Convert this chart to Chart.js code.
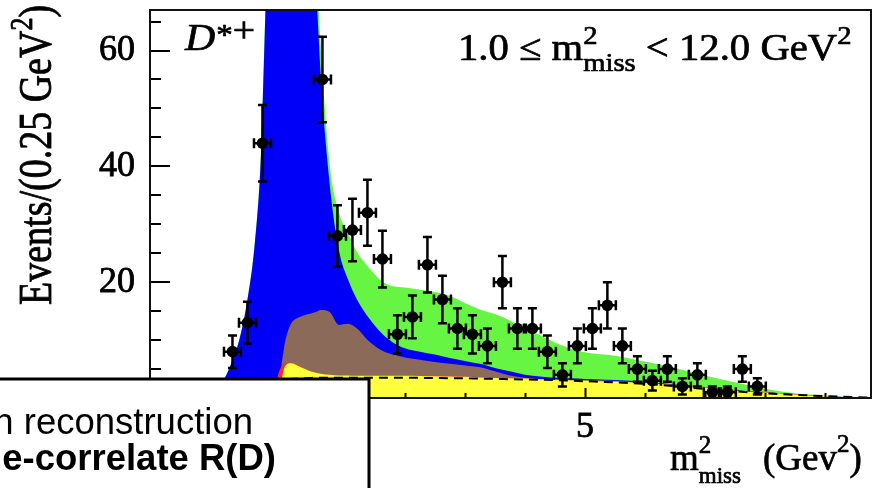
<!DOCTYPE html>
<html>
<head>
<meta charset="utf-8">
<script src="https://cdn.jsdelivr.net/npm/chart.js@4.4.1/dist/chart.umd.min.js"></script>
<style>
  html, body { margin: 0; padding: 0; background: #ffffff; }
  #wrap { width: 886px; height: 488px; position: relative; overflow: hidden; }
  canvas { display: block; }
</style>
</head>
<body>
<div id="wrap"><canvas id="c" width="886" height="488"></canvas></div>
<script>
// ---------- data ----------
// x positions (GeV^2) at which the stacked fit components were read
const curveX = [-1.5,-1.25,-1.0,-0.875,-0.75,-0.625,-0.5,-0.4,-0.3,-0.2,
                -0.1,0,0.1,0.25,0.4,0.5,0.6,0.75,0.9,1.05,
                1.2,1.4,1.6,1.8,2.0,2.25,2.5,2.75,3.0,3.25,
                3.5,3.75,4.0,4.25,4.5,4.75,5.0,5.5,6.0,6.5,
                7.0,7.5,8.0,8.5,9.0,9.5,9.8];
// upper edge of each stacked component (events / 0.25 GeV^2)
const greenTop  = [0,0,3.6,6.6,10.6,17.2,27.3,42.5,76,101,
                   116,123,125,117,96,80,60,40,32,28.5,
                   25.2,22.5,20.3,19.3,19.1,18.7,18.3,17.6,16.4,15.3,
                   14.5,13.4,12.1,10.9,9.6,8.6,7.9,7.3,6.3,5.2,
                   3.9,2.7,1.6,0.8,0.4,0.12,0];
const blueTop   = [0,0,3.5,6.5,10.5,17,27,42,75,100,
                   115,122,124,115,92,75,55,36.5,25.5,20.5,
                   17,13.8,11.3,9.6,8.6,8.0,7.5,6.9,6.4,5.9,
                   5.2,4.6,4.0,3.7,3.5,3.4,3.3,3.1,2.8,2.35,
                   1.9,1.35,1.05,0.65,0.35,0.1,0];
const brownTop  = [0,0,0,0,0,0,0,0,0,0,
                   3,9.6,12.8,14,14.5,14.8,15.2,14.8,12.6,12.8,
                   12,9.8,8.3,7.5,7.0,6.6,6.2,5.9,5.6,5.3,
                   4.6,3.9,3.5,3.3,3.2,3.15,3.1,2.95,2.65,2.25,
                   1.85,1.3,1.0,0.62,0.32,0.1,0];
const redTop    = [0,0,0,0,0,0,0,0,0,0.5,
                   4.5,6,6.1,5.5,4.7,4.4,4.2,4.0,3.9,3.9,
                   3.85,3.85,3.85,3.85,3.85,3.8,3.75,3.7,3.65,3.55,
                   3.45,3.4,3.35,3.25,3.15,3.05,3.0,2.85,2.6,2.2,
                   1.8,1.25,0.95,0.6,0.3,0.1,0];
const yellowTop = [0,0,0,0,0,0,0,0,0,0,
                   1,5.5,6.0,5.4,4.7,4.4,4.2,4.0,3.9,3.9,
                   3.85,3.85,3.85,3.85,3.85,3.8,3.75,3.7,3.65,3.55,
                   3.45,3.4,3.35,3.25,3.15,3.05,3.0,2.85,2.6,2.2,
                   1.8,1.25,0.95,0.6,0.3,0.1,0];
const dashedLine = [0,0,0,0,0,0,0,0,0,0,
                   0.5,3,3.3,3.4,3.45,3.5,3.5,3.5,3.5,3.5,
                   3.5,3.5,3.5,3.5,3.5,3.48,3.45,3.42,3.4,3.35,
                   3.3,3.25,3.2,3.15,3.1,3.0,2.9,2.7,2.45,2.05,
                   1.55,1.15,0.8,0.55,0.33,0.15,0.05];

// data points: bin centres, counts, errors (bins -0.125..0.375 run off the top)
const binCenters = [-0.875,-0.625,-0.375,-0.125,0.125,0.375,0.625,0.875,1.125,1.375,
                    1.625,1.875,2.125,2.375,2.625,2.875,3.125,3.375,3.625,3.875,
                    4.125,4.375,4.625,4.875,5.125,5.375,5.625,5.875,6.125,6.375,
                    6.625,6.875,7.125,7.375,7.625,7.875];
const events     = [8,13,44,98,118,88,55,28,29,32,
                    24,11,14,23,17,12,11,9,20,12,
                    12,8,4,9,12,16,9,5,3,5,
                    2,4,1,1,5,2];
const eventErrors = [2.8,3.6,6.6,9.9,10.9,9.4,7.4,5.3,5.4,5.7,
                     4.9,3.3,3.7,4.8,4.1,3.5,3.3,3.0,4.5,3.5,
                     3.5,2.8,2.0,3.0,3.5,4.0,3.0,2.2,1.7,2.2,
                     1.4,2.0,1.0,1.0,2.2,1.4];
const binHalfWidth = 0.125;

const xTickValues = [0, 5];
const yTickValues = [0, 20, 40, 60];
const xMinorStep = 1, yMinorStep = 5;

// ---------- helpers ----------
const SERIF = '"Liberation Serif", "Times New Roman", serif';
const SANS = '"Liberation Sans", Arial, sans-serif';

function pts(ys) { return curveX.map((x, i) => ({ x: x, y: ys[i] })); }

function areaDS(label, ys, color, order) {
  return {
    label: label, data: pts(ys), order: order,
    backgroundColor: color, borderColor: color, borderWidth: 0,
    fill: 'origin', pointRadius: 0, cubicInterpolationMode: 'monotone'
  };
}

// draw rich text: parts {t, size, dy, dx, style, stack}
function richText(ctx, x, y, parts, family, sx, sy, rot) {
  ctx.save();
  ctx.translate(x, y);
  if (rot) ctx.rotate(rot);
  ctx.scale(sx, sy);
  ctx.textAlign = 'left';
  ctx.textBaseline = 'alphabetic';
  ctx.fillStyle = '#000';
  ctx.strokeStyle = '#000';
  ctx.lineWidth = 0.7;
  ctx.lineJoin = 'round';
  let cx = 0, lastStart = 0, lastW = 0;
  for (const p of parts) {
    ctx.font = (p.style || '') + ' ' + p.size + 'px ' + family;
    const w = ctx.measureText(p.t).width;
    let tx;
    if (p.stack) {
      tx = lastStart;
      cx = lastStart + Math.max(w, lastW);
    } else {
      tx = cx + (p.dx || 0);
      lastStart = cx; lastW = w;
      cx += w + (p.dx || 0);
    }
    ctx.fillText(p.t, tx, p.dy || 0);
    ctx.strokeText(p.t, tx, p.dy || 0);
  }
  ctx.restore();
}

const errorBarPlugin = {
  id: 'errorBars',
  afterDatasetsDraw(chart) {
    const { ctx, chartArea: a } = chart;
    const xs = chart.scales.x, ys = chart.scales.y;
    ctx.save();
    ctx.beginPath();
    ctx.rect(a.left, a.top, a.right - a.left, a.bottom - a.top);
    ctx.clip();
    ctx.strokeStyle = '#000';
    ctx.lineWidth = 2.5;
    binCenters.forEach((bx, i) => {
      const px = xs.getPixelForValue(bx);
      const py = ys.getPixelForValue(events[i]);
      const pt = ys.getPixelForValue(events[i] + eventErrors[i]);
      const pb = ys.getPixelForValue(events[i] - eventErrors[i]);
      const pl = xs.getPixelForValue(bx - binHalfWidth) - 1;
      const pr = xs.getPixelForValue(bx + binHalfWidth) + 1;
      ctx.beginPath();
      ctx.moveTo(px, pt); ctx.lineTo(px, pb);
      ctx.moveTo(px - 4.5, pt); ctx.lineTo(px + 4.5, pt);
      ctx.moveTo(px - 4.5, pb); ctx.lineTo(px + 4.5, pb);
      ctx.moveTo(pl, py); ctx.lineTo(pr, py);
      ctx.moveTo(pl, py - 5); ctx.lineTo(pl, py + 5);
      ctx.moveTo(pr, py - 5); ctx.lineTo(pr, py + 5);
      ctx.stroke();
    });
    ctx.restore();
  }
};

const framePlugin = {
  id: 'frameAndLabels',
  afterDraw(chart) {
    const { ctx, chartArea: a } = chart;
    const xs = chart.scales.x, ys = chart.scales.y;
    ctx.save();
    // inward ticks
    ctx.strokeStyle = '#000';
    ctx.lineWidth = 2;
    ctx.beginPath();
    for (let v = Math.ceil(xs.min); v <= xs.max; v += xMinorStep) {
      const p = Math.round(xs.getPixelForValue(v)) + 0.5;
      const len = xTickValues.includes(v) ? 10 : 5;
      ctx.moveTo(p, a.bottom); ctx.lineTo(p, a.bottom - len);
    }
    for (let v = 0; v <= ys.max; v += yMinorStep) {
      const p = Math.round(ys.getPixelForValue(v));
      const len = yTickValues.includes(v) ? 20 : 11;
      ctx.moveTo(a.left, p); ctx.lineTo(a.left + len, p);
    }
    ctx.stroke();
    // frame
    ctx.strokeStyle = '#111';
    ctx.lineWidth = 2;
    ctx.strokeRect(a.left, a.top, a.right - a.left, a.bottom - a.top);

    // in-plot labels
    richText(ctx, 185, 50, [
      { t: 'D', size: 38, style: 'italic' },
      { t: '*', size: 30, dy: -6, dx: 1 },
      { t: '+', size: 36, dy: -8 }
    ], SERIF, 1.1, 1);
    richText(ctx, 458, 60, [
      { t: '1.0 \u2264 m', size: 37 },
      { t: '2', size: 26, dy: -16 },
      { t: 'miss', size: 26, dy: 11, stack: true },
      { t: ' < 12.0 GeV', size: 37 },
      { t: '2', size: 26, dy: -16 }
    ], SERIF, 1.1, 1);

    // y axis title (rotated)
    richText(ctx, 51, 305, [
      { t: 'Events/(0.25 GeV', size: 38 },
      { t: '2', size: 26, dy: -16 },
      { t: ')', size: 38 }
    ], SERIF, 1, 1.2, -Math.PI / 2);

    // x axis title
    richText(ctx, 670, 470, [
      { t: 'm', size: 37 },
      { t: '2', size: 25, dy: -17 },
      { t: 'miss', size: 23, dy: 13, stack: true }
    ], SERIF, 1, 1);
    richText(ctx, 763, 470, [
      { t: '(Gev', size: 37 },
      { t: '2', size: 25, dy: -18 },
      { t: ')', size: 37 }
    ], SERIF, 1, 1);

    // overlay text box (slide caption, cut at the image edge)
    ctx.fillStyle = '#ffffff';
    ctx.fillRect(-10, 379, 379, 120);
    ctx.strokeStyle = '#000';
    ctx.lineWidth = 3;
    ctx.strokeRect(-10, 379, 379, 120);
    ctx.fillStyle = '#000';
    ctx.textAlign = 'right';
    ctx.textBaseline = 'alphabetic';
    ctx.font = '36.5px ' + SANS;
    ctx.fillText('h reconstruction', 253, 434);
    ctx.font = 'bold 36.5px ' + SANS;
    ctx.fillText('e-correlate R(D)', 276, 470);
    ctx.restore();
  }
};

const datasets = [
  {
    label: 'Data', order: 0,
    data: binCenters.map((x, i) => ({ x: x, y: events[i] })),
    showLine: false, pointRadius: 5.8, pointHoverRadius: 5.8,
    pointBackgroundColor: '#000', pointBorderColor: '#000', pointBorderWidth: 0
  },
  {
    label: 'dashed', order: 1, data: pts(dashedLine),
    borderColor: '#000', borderWidth: 2, borderDash: [9, 6],
    fill: false, pointRadius: 0, cubicInterpolationMode: 'monotone'
  },
  areaDS('yellow', yellowTop, '#ffff3c', 2),
  areaDS('red', redTop, '#ff2a1e', 3),
  areaDS('brown', brownTop, '#8c6a5a', 4),
  areaDS('blue', blueTop, '#0000f8', 5),
  areaDS('green', greenTop, '#66f542', 6)
];

new Chart(document.getElementById('c'), {
  type: 'line',
  data: { datasets: datasets },
  plugins: [errorBarPlugin, framePlugin],
  options: {
    responsive: false,
    animation: false,
    devicePixelRatio: 1,
    layout: { padding: { top: 10, right: 15, left: 0, bottom: 0 } },
    plugins: { legend: { display: false }, tooltip: { enabled: false } },
    scales: {
      x: {
        type: 'linear', min: -2.25, max: 9.77,
        grid: { display: false }, border: { display: false },
        afterBuildTicks: (s) => { s.ticks = xTickValues.map(v => ({ value: v })); },
        afterFit: (s) => { s.height = 90; s.paddingLeft = 0; s.paddingRight = 0; },
        ticks: { color: '#000', padding: 0, maxRotation: 0, autoSkip: false,
                 textStrokeColor: '#000', textStrokeWidth: 0.8,
                 font: { family: SERIF, size: 36 },
                 callback: (v) => String(v) }
      },
      y: {
        type: 'linear', min: 0, max: 67,
        grid: { display: false }, border: { display: false },
        afterBuildTicks: (s) => { s.ticks = yTickValues.map(v => ({ value: v })); },
        afterFit: (s) => { s.width = 150; s.paddingTop = 0; s.paddingBottom = 0; },
        ticks: { color: '#000', padding: 7, autoSkip: false,
                 textStrokeColor: '#000', textStrokeWidth: 0.8,
                 font: { family: SERIF, size: 36 },
                 callback: (v) => String(v) }
      }
    }
  }
});
</script>
</body>
</html>
